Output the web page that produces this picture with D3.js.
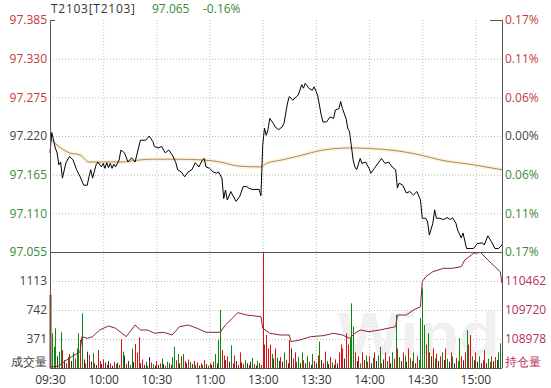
<!DOCTYPE html>
<html>
<head>
<meta charset="utf-8">
<script src="https://cdn.jsdelivr.net/npm/d3@7"></script>
<style>
body { margin: 0; background: #fff; }
svg { display: block; font-family: "Open Sans", "Noto Sans", sans-serif; }
</style>
</head>
<body>
<svg id="chart" width="551" height="388"></svg>
<script>
// session minutes: 0 = 09:30, 120 = 11:30/13:00, 255 = 15:15
var timeTicks = [0, 30, 60, 90, 120, 150, 180, 210, 240];
var timeLabels = ["09:30", "10:00", "10:30", "11:00", "13:00", "13:30", "14:00", "14:30", "15:00"];

var prevClose = 97.220;
var priceTicks = [97.385, 97.330, 97.275, 97.220, 97.165, 97.110, 97.055];
var pctLabels = ["0.17%", "0.11%", "0.06%", "0.00%", "0.06%", "0.11%", "0.17%"];
var volTicks = [1113, 742, 371];
var oiTicks = [110462, 109720, 108978];

var priceIdx = [0,1,2,3,4,5,6,7,9,11, 13,15,17,19,21,22,23,24,26,27, 29,30,31,32,33,34,35,36,37,39,
  40,42,44,46,48,51,54,56,58,59, 61,63,65,67,69,71,72,74,76,78, 80,82,84,86,87,88,90,92,94,95,
  97,98,99,100,102,103,105,107,109,111, 112,114,118,119,120,121,122,123,124,126,
  127,129,131,132,134,135,137,139,140,142, 143,144,146,148,149,151,153,154,156,158,
  160,161,163,164,165,167,168,169,170,171, 172,173,175,176,178,180,181,183,185,187,
  189,191,193,195,196,197,199,201,203,205, 207,209,210,212,213,214,216,217,218,220,
  222,224,226,227,229,230,232,233,235,237, 239,241,244,245,247,249,251,253,255];
var priceVal = [97.196,97.225,97.214,97.203,97.196,97.179,97.183,97.160,97.182,97.191,
  97.186,97.172,97.162,97.150,97.150,97.162,97.172,97.160,97.179,97.183,
  97.176,97.181,97.174,97.182,97.175,97.181,97.174,97.180,97.176,97.186,
  97.200,97.196,97.183,97.189,97.183,97.214,97.214,97.220,97.212,97.205,
  97.203,97.205,97.196,97.200,97.193,97.182,97.172,97.169,97.162,97.169,
  97.172,97.182,97.176,97.186,97.188,97.176,97.174,97.169,97.167,97.169,
  97.160,97.131,97.143,97.129,97.141,97.136,97.127,97.134,97.148,97.148,
  97.146,97.144,97.144,97.135,97.207,97.231,97.221,97.229,97.245,97.238,
  97.233,97.229,97.233,97.238,97.267,97.276,97.271,97.276,97.278,97.293,
  97.288,97.295,97.288,97.285,97.290,97.278,97.250,97.240,97.240,97.247,
  97.245,97.257,97.259,97.269,97.259,97.245,97.231,97.226,97.206,97.186,
  97.176,97.172,97.188,97.181,97.183,97.174,97.167,97.174,97.181,97.188,
  97.181,97.183,97.176,97.172,97.146,97.153,97.150,97.139,97.141,97.136,
  97.141,97.129,97.103,97.103,97.098,97.079,97.096,97.115,97.103,97.103,
  97.101,97.104,97.101,97.104,97.096,97.086,97.075,97.082,97.060,97.060,
  97.060,97.067,97.068,97.065,97.078,97.070,97.060,97.060,97.065];

var avgIdx = [0,6,11,17,22,32,40,51,58,69,86,96,107,119,122,131,141,154,169,192,209,220,239,255];
var avgVal = [97.217,97.203,97.196,97.193,97.183,97.183,97.183,97.186,97.187,97.187,97.186,97.183,
  97.177,97.176,97.181,97.186,97.192,97.200,97.203,97.200,97.193,97.186,97.179,97.172];

var oiIdx = [0,5,8,11,17,18,21,24,28,33, 37,43,48,51,55,59,64,69,73,78, 83,88,96,99,106,111,119,120,124,130,
  135,136,141,147,154,160,165,169,172,175, 180,186,195,196,201,205,209,210,212,216,
  222,227,232,234,239,243,247,250,254,255];
var oiVal = [108262,108287,108397,108492,108653,109037,108996,109037,109208,109311,
  109252,109037,109336,109208,109208,109124,109150,109080,109293,109336,
  109252,109150,109150,109336,109651,109592,109549,109252,109124,109080,
  109080,108909,108953,109037,109063,109124,109080,108996,109124,109208,
  109165,109208,109293,109592,109592,109720,109805,110444,110572,110700,
  110787,110787,110828,111000,111171,111190,111000,110872,110700,110403];

var volume = [934,444,272,508,150,209,456,230,100,60,
  140,180,90,200,120,250,444,358,700,110,
  60,209,170,80,190,60,40,230,90,50,
  110,70,40,90,60,30,80,50,70,40,
  367,209,160,50,90,40,247,80,307,200,
  393,60,110,40,80,30,140,70,50,30,
  90,40,60,120,50,30,80,60,40,140,
  272,100,180,60,150,180,90,60,110,80,
  50,90,40,70,30,60,40,100,50,30,
  60,40,80,180,60,358,742,230,160,100,
  150,80,290,60,160,90,40,200,70,50,
  100,60,40,80,130,50,30,90,60,40,
  1484,300,422,250,300,180,120,250,130,90,
  140,80,200,100,60,358,250,120,200,80,
  140,60,200,100,60,150,80,40,180,90,
  60,160,337,100,60,209,90,50,140,70,
  40,110,60,200,300,250,120,444,300,380,
  827,529,200,90,150,60,200,100,160,80,
  150,60,130,200,90,160,270,60,110,200,
  90,150,60,200,120,678,250,140,90,200,
  160,80,250,130,90,200,60,150,100,636,
  1019,550,300,444,200,150,250,120,180,90,
  150,200,100,250,120,80,200,150,60,130,
  90,380,150,100,200,486,300,422,150,100,
  200,80,150,60,100,230,60,120,80,150,
  90,140,100,200,315,742];
// r = up, g = down, k = flat, b = opening bar
var volColor = ("bgggkggrkr" + "grkgrggrgk" + "rkrkgrkrrk" + "rkrkrkrgkr" + "rgkrkggkrr" +
  "rkrkgrkrgk" + "rkrgkrgkrg" + "grgkrgrkrg" + "krgrkrgrkg" + "rkrgkggrrk" +
  "rkgrrkrrkr" + "gkrkgrkgkr" + "rrrrrgkrgk" + "rkgrkrkrrg" + "gkgrkgrkgr" +
  "krgkrrgkrg" + "krkrrrkrrg" + "ggrkrgrkgr" + "rkgrkggrkr" + "grkgrgrgkr" +
  "gkrgrgkrgg" + "ggrgrkrgrk" + "rgkrgkrgkr" + "ggrkrgrrgk" + "rkgkrrkgrg" + "krkggr").split("");

var plotL = 50, plotR = 502, plotT = 20, plotM = 252, plotB = 368;
var red = "#c23b3b", green = "#3a8a3a", gray = "#444", oiRed = "#b5305a";
var barColors = { r: "#e01010", g: "#0a8a0a", k: "#333", b: "#7a3a10" };

var svg = d3.select("#chart");

var x = d3.scaleLinear().domain([0, 255]).range([plotL, plotR]);
var y = d3.scaleLinear().domain([97.055, 97.385]).range([plotM, plotT]);
var yv = d3.scaleLinear().domain([0, 1484]).range([plotB, plotM]);
var yo = d3.scaleLinear().domain([108236, 111204]).range([plotB, plotM]);

function dotted(g) {
    g.select(".domain").remove();
    g.selectAll("line").attr("stroke", "#bdbdbd").attr("stroke-dasharray", "1,2");
}

// grid
svg.append("g")
    .attr("transform", "translate(" + plotL + ",0)")
    .call(d3.axisLeft(y).tickValues(priceTicks.slice(1, -1)).tickSize(-(plotR - plotL)).tickFormat(""))
    .call(dotted);
svg.append("g")
    .attr("transform", "translate(" + plotL + ",0)")
    .call(d3.axisLeft(yv).tickValues(volTicks).tickSize(-(plotR - plotL)).tickFormat(""))
    .call(dotted);
svg.append("g")
    .attr("transform", "translate(0," + plotT + ")")
    .call(d3.axisBottom(x).tickValues(timeTicks.slice(1)).tickSize(plotB - plotT).tickFormat(""))
    .call(dotted);

// watermark
svg.append("text")
    .attr("x", 338).attr("y", 355)
    .attr("textLength", 162).attr("lengthAdjust", "spacingAndGlyphs")
    .attr("font-size", 62).attr("font-weight", "bold")
    .attr("font-family", "Liberation Sans, Arial, sans-serif")
    .attr("fill", "#f0f0f0")
    .text("Wind");

// volume bars
svg.append("g").selectAll("line")
    .data(volume)
    .enter().append("line")
    .attr("x1", function (d, i) { return Math.round(x(i)) + 0.5; })
    .attr("x2", function (d, i) { return Math.round(x(i)) + 0.5; })
    .attr("y1", yv(0))
    .attr("y2", function (d) { return yv(d); })
    .attr("stroke", function (d, i) { return barColors[volColor[i]]; })
    .attr("stroke-width", function (d, i) { return i == 0 ? 2 : 1; });

// open interest
var oiLine = d3.line()
    .x(function (d) { return x(d[0]); })
    .y(function (d) { return yo(d[1]); });
svg.append("path")
    .attr("d", oiLine(d3.zip(oiIdx, oiVal)))
    .attr("fill", "none").attr("stroke", "#8c1f46").attr("stroke-width", 1);

// average price
var avgLine = d3.line()
    .x(function (d) { return x(d[0]); })
    .y(function (d) { return y(d[1]); })
    .curve(d3.curveMonotoneX);
svg.append("path")
    .attr("d", avgLine(d3.zip(avgIdx, avgVal)))
    .attr("fill", "none").attr("stroke", "#fbf1e0").attr("stroke-width", 4);
svg.append("path")
    .attr("d", avgLine(d3.zip(avgIdx, avgVal)))
    .attr("fill", "none").attr("stroke", "#b08a58").attr("stroke-width", 1);

// price
var priceLine = d3.line()
    .x(function (d) { return x(d[0]); })
    .y(function (d) { return y(d[1]); });
svg.append("path")
    .attr("d", priceLine(d3.zip(priceIdx, priceVal)))
    .attr("fill", "none").attr("stroke", "#000").attr("stroke-width", 1);

// frame
var frame = svg.append("g").attr("stroke", "#555").attr("stroke-width", 1).attr("shape-rendering", "crispEdges");
frame.append("line").attr("x1", plotL).attr("x2", plotL).attr("y1", plotT).attr("y2", plotB);
frame.append("line").attr("x1", plotR).attr("x2", plotR).attr("y1", plotT).attr("y2", plotB);
frame.append("line").attr("x1", plotL).attr("x2", plotR).attr("y1", plotM).attr("y2", plotM);
frame.append("line").attr("x1", plotL).attr("x2", plotR).attr("y1", plotB).attr("y2", plotB);
frame.append("line").attr("x1", plotL).attr("x2", plotL + 5).attr("y1", plotT).attr("y2", plotT);
frame.append("line").attr("x1", plotR - 12).attr("x2", plotR).attr("y1", plotT).attr("y2", plotT);

function labels(g) {
    g.select(".domain").remove();
    g.attr("font-size", 12).attr("font-family", null);
}
function priceColor(d) {
    return d > prevClose + 1e-9 ? red : (d < prevClose - 1e-9 ? green : gray);
}

// price axes
svg.append("g")
    .attr("transform", "translate(" + (plotL - 3) + ",0)")
    .call(d3.axisLeft(y).tickValues(priceTicks).tickSize(0).tickPadding(0).tickFormat(d3.format(".3f")))
    .call(labels)
    .selectAll("text").attr("fill", priceColor);
svg.append("g")
    .attr("transform", "translate(" + (plotR + 3) + ",0)")
    .call(d3.axisRight(y).tickValues(priceTicks).tickSize(0).tickPadding(0)
        .tickFormat(function (d, i) { return pctLabels[i]; }))
    .call(labels)
    .selectAll("text").attr("fill", priceColor);

// volume / open interest axes
svg.append("g")
    .attr("transform", "translate(" + (plotL - 3) + ",0)")
    .call(d3.axisLeft(yv).tickValues(volTicks).tickSize(0).tickPadding(0).tickFormat(d3.format("d")))
    .call(labels)
    .selectAll("text").attr("fill", gray);
svg.append("g")
    .attr("transform", "translate(" + (plotR + 3) + ",0)")
    .call(d3.axisRight(yo).tickValues(oiTicks).tickSize(0).tickPadding(0).tickFormat(d3.format("d")))
    .call(labels)
    .selectAll("text").attr("fill", oiRed);

svg.append("text").attr("x", plotL - 3).attr("y", 366).attr("text-anchor", "end")
    .attr("font-size", 12).attr("fill", gray).text("成交量");
svg.append("text").attr("x", plotR + 3).attr("y", 366)
    .attr("font-size", 12).attr("fill", oiRed).text("持仓量");

// time axis
svg.append("g")
    .attr("transform", "translate(0," + plotB + ")")
    .call(d3.axisBottom(x).tickValues(timeTicks).tickSize(0).tickPadding(7)
        .tickFormat(function (d, i) { return timeLabels[i]; }))
    .call(labels)
    .selectAll("text").attr("fill", "#333");

// header
svg.append("text").attr("x", 51).attr("y", 13).attr("font-size", 12).attr("fill", "#333")
    .attr("textLength", 84).attr("lengthAdjust", "spacing").text("T2103[T2103]");
svg.append("text").attr("x", 152).attr("y", 13).attr("font-size", 12).attr("fill", green).text("97.065");
svg.append("text").attr("x", 203).attr("y", 13).attr("font-size", 12).attr("fill", green).text("-0.16%");
</script>
</body>
</html>
